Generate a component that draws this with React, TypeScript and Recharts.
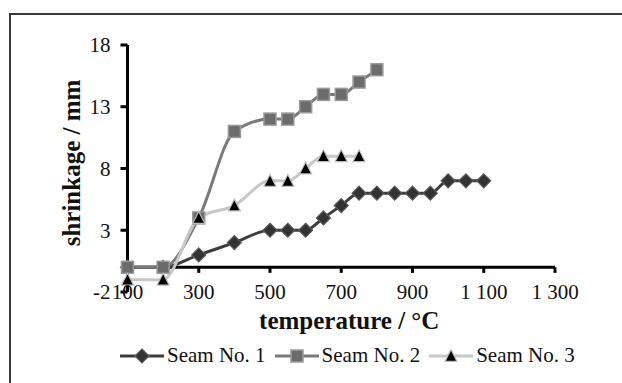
import React from 'react'
import { LineChart, Line, XAxis, YAxis, ReferenceLine, Label } from 'recharts'

// temperatures (°C) and shrinkage values
const temps = [100, 200, 300, 400, 500, 550, 600, 650, 700, 750, 800, 850, 900, 950, 1000, 1050, 1100]
const seam1 = [0, 0, 1, 2, 3, 3, 3, 4, 5, 6, 6, 6, 6, 6, 7, 7, 7]
const seam2 = [0, 0, 4, 11, 12, 12, 13, 14, 14, 15, 16]
const seam3 = [-1, -1, 4, 5, 7, 7, 8, 9, 9, 9]

const xTicks = [100, 300, 500, 700, 900, 1100, 1300]
const yTicks = [-2, 3, 8, 13, 18]
const seriesNames = ['Seam No. 1', 'Seam No. 2', 'Seam No. 3']

const data = temps.map((t, i) => ({
  t,
  s1: seam1[i] ?? null,
  s2: seam2[i] ?? null,
  s3: seam3[i] ?? null,
}))

const FONT = '"Liberation Serif", "Times New Roman", serif'

const COLORS = {
  s1: { line: '#3d3d3d', fill: '#333333', stroke: '#5a5a5a' },
  s2: { line: '#7a7a7a', fill: '#6c6c6c', stroke: '#9a9a9a' },
  s3: { line: '#c8c8c8', fill: '#000000', stroke: '#bdbdbd' },
}

function Diamond({ cx, cy, r = 7 }: { cx: number; cy: number; r?: number }) {
  return (
    <path
      d={`M${cx},${cy - r} L${cx + r},${cy} L${cx},${cy + r} L${cx - r},${cy} Z`}
      fill={COLORS.s1.fill}
      stroke={COLORS.s1.stroke}
      strokeWidth={1.2}
    />
  )
}

function Square({ cx, cy, s = 12 }: { cx: number; cy: number; s?: number }) {
  return (
    <rect
      x={cx - s / 2}
      y={cy - s / 2}
      width={s}
      height={s}
      fill={COLORS.s2.fill}
      stroke={COLORS.s2.stroke}
      strokeWidth={1.5}
    />
  )
}

function Triangle({ cx, cy, s = 12 }: { cx: number; cy: number; s?: number }) {
  const h = s * 0.9
  return (
    <path
      d={`M${cx},${cy - h / 2 - 1} L${cx + s / 2},${cy + h / 2} L${cx - s / 2},${cy + h / 2} Z`}
      fill={COLORS.s3.fill}
      stroke={COLORS.s3.stroke}
      strokeWidth={1.2}
    />
  )
}

const markers = [Diamond, Square, Triangle]

function makeDot(Marker: any) {
  return (props: any) => {
    const { cx, cy, value, index } = props
    if (value === null || value === undefined || cx == null || cy == null) return <g key={index} />
    return <Marker key={index} cx={cx} cy={cy} />
  }
}

function fmtTemp(v: number) {
  return v >= 1000 ? `${Math.floor(v / 1000)} ${String(v % 1000).padStart(3, '0')}` : String(v)
}

function XTick(props: any) {
  const { x, y, payload } = props
  return (
    <text x={x} y={y} dy="0.33em" textAnchor="middle" fontFamily={FONT} fontSize={21} fill="#111">
      {fmtTemp(payload.value)}
    </text>
  )
}

function YTitle(props: any) {
  const { x, y, height } = props.viewBox
  const cx = x + 4
  const cy = y + height / 2 - 5.5
  return (
    <text
      x={cx}
      y={cy}
      transform={`rotate(-90, ${cx}, ${cy})`}
      textAnchor="middle"
      dominantBaseline="central"
      fontFamily={FONT}
      fontSize={25}
      fontWeight="bold"
      fill="#111"
    >
      shrinkage / mm
    </text>
  )
}

function LegendItem({ idx }: { idx: number }) {
  const key = (['s1', 's2', 's3'] as const)[idx]
  const Marker = markers[idx]
  return (
    <div style={{ display: 'flex', alignItems: 'center', marginRight: 9 }}>
      <svg width={44} height={20}>
        <line x1={0} y1={10} x2={44} y2={10} stroke={COLORS[key].line} strokeWidth={3} />
        <Marker cx={22} cy={10} />
      </svg>
      <span style={{ fontFamily: FONT, fontSize: 21, color: '#111', marginLeft: 3 }}>{seriesNames[idx]}</span>
    </div>
  )
}

export default function App() {
  return (
    <div style={{ position: 'fixed', left: 0, top: 0, width: 622, height: 383, background: '#fff', overflow: 'hidden' }}>
      <div
        style={{
          position: 'absolute',
          left: 9,
          top: 13,
          width: 700,
          height: 500,
          borderTop: '2px solid #3a3a3a',
          borderLeft: '2px solid #3a3a3a',
        }}
      />
      <div style={{ position: 'absolute', left: 0, top: 0 }}>
        <LineChart width={622} height={383} data={data} margin={{ top: 45, right: 67, left: 67.5, bottom: 61 }}>
          <XAxis
            dataKey="t"
            type="number"
            domain={[100, 1300]}
            ticks={xTicks}
            axisLine={false}
            tickLine={false}
            tickSize={0}
            tickMargin={0}
            height={30}
            tick={<XTick />}
            interval={0}
          >
            <Label
              value="temperature / °C"
              position="bottom"
              offset={-11}
              dx={8}
              style={{ fontFamily: FONT, fontSize: 25, fontWeight: 'bold', fill: '#111' }}
            />
          </XAxis>
          <YAxis
            type="number"
            domain={[-2, 18]}
            ticks={yTicks}
            interval={0}
            width={60}
            axisLine={{ stroke: '#000', strokeWidth: 3 }}
            tickLine={{ stroke: '#000', strokeWidth: 3 }}
            tickSize={7}
            tickMargin={10}
            tick={{ fontFamily: FONT, fontSize: 21, fill: '#111' }}
          >
            <Label content={<YTitle />} />
          </YAxis>
          <ReferenceLine y={0} stroke="#000" strokeWidth={3} ifOverflow="visible" />
          {xTicks.map((xt) => (
            <ReferenceLine
              key={xt}
              segment={[{ x: xt, y: 0 }, { x: xt, y: -0.45 }]}
              stroke="#000"
              strokeWidth={3}
              ifOverflow="visible"
            />
          ))}
          <Line
            type="monotone"
            dataKey="s1"
            stroke={COLORS.s1.line}
            strokeWidth={3}
            dot={makeDot(Diamond)}
            activeDot={false}
            isAnimationActive={false}
          />
          <Line
            type="monotone"
            dataKey="s2"
            stroke={COLORS.s2.line}
            strokeWidth={3}
            dot={makeDot(Square)}
            activeDot={false}
            isAnimationActive={false}
          />
          <Line
            type="monotone"
            dataKey="s3"
            stroke={COLORS.s3.line}
            strokeWidth={3}
            dot={makeDot(Triangle)}
            activeDot={false}
            isAnimationActive={false}
          />
        </LineChart>
      </div>
      <div style={{ position: 'absolute', left: 120, top: 343, display: 'flex', alignItems: 'center' }}>
        {seriesNames.map((_, i) => (
          <LegendItem key={i} idx={i} />
        ))}
      </div>
    </div>
  )
}
